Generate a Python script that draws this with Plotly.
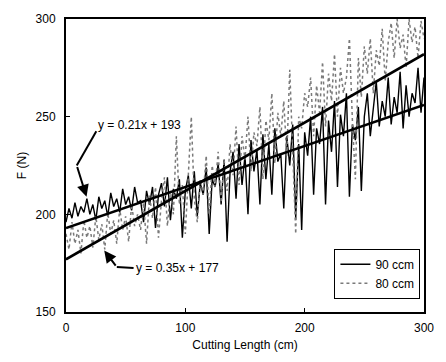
import plotly.graph_objects as go

# ---- data ----
x_cm = [i * 2.5 for i in range(121)]

f_90 = [196,203,198,206,199,204,201,208,200,205,197,209,203,207,199,211,204,208,201,213,205,209,202,214,206,
        207,196,212,205,214,193,210,216,204,219,197,213,208,218,188,212,220,203,222,199,216,210,224,190,218,214,226,205,
        228,186,222,232,208,236,215,230,200,238,222,233,205,241,218,236,210,244,227,231,203,240,225,246,198,236,192,242,
        230,250,210,244,236,255,205,248,232,258,214,251,240,262,209,246,238,255,212,250,
        262,240,255,268,245,258,250,270,246,260,252,273,244,266,250,262,257,275,252,270]

f_80 = [190,182,196,185,192,180,197,188,194,183,199,187,195,182,201,190,197,185,203,192,199,186,205,194,200,
        192,206,185,210,198,214,188,207,219,194,212,200,240,205,215,190,222,250,208,196,218,210,230,200,225,214,232,206,
        228,212,236,220,245,215,240,228,250,222,242,235,255,218,248,238,262,226,252,240,258,230,274,236,190,250,244,262,
        255,270,240,266,252,278,245,272,258,282,250,275,262,270,290,248,218,280,260,286,
        272,290,262,284,276,295,268,288,298,280,300,285,292,275,300,288,296,280,299,290]

series_names = ["90 ccm", "80 ccm"]
fit_slopes = [0.21, 0.35]
fit_intercepts = [193, 177]
fit_labels = ["y = 0.21x + 193", "y = 0.35x + 177"]
x_ticks = [0, 100, 200, 300]
y_ticks = [150, 200, 250, 300]

FONT = "Liberation Sans, Arial, sans-serif"

fig = go.Figure()
fig.add_trace(go.Scatter(x=x_cm, y=f_90, mode="lines", name=series_names[0],
                         line=dict(color="#000000", width=1.4)))
fig.add_trace(go.Scatter(x=x_cm, y=f_80, mode="lines", name=series_names[1],
                         line=dict(color="#7a7a7a", width=1.5, dash="dot")))

# linear fits
x_fit = [x_ticks[0], x_ticks[-1]]
for m, b in zip(fit_slopes, fit_intercepts):
    fig.add_trace(go.Scatter(x=x_fit, y=[m * xx + b for xx in x_fit], mode="lines",
                             showlegend=False, hoverinfo="skip",
                             line=dict(color="#000000", width=2.6)))

# annotation 1 : bent arrow to upper fit
fig.add_trace(go.Scatter(x=[25.4, 9.0], y=[242.5, 225], mode="lines", showlegend=False,
                         hoverinfo="skip", line=dict(color="#000000", width=2)))
fig.add_annotation(x=17.2, y=209, ax=9.0, ay=225, xref="x", yref="y", axref="x", ayref="y",
                   text="", showarrow=True, arrowhead=2, arrowsize=1.2, arrowwidth=2,
                   arrowcolor="#000000")
fig.add_annotation(x=25.4, y=245.5, xref="x", yref="y", text=fit_labels[0], showarrow=False,
                   xanchor="left", yanchor="middle", font=dict(family=FONT, size=12, color="#000"))

# annotation 2 : bent arrow to lower fit
fig.add_trace(go.Scatter(x=[56.6, 42.6], y=[172.5, 173], mode="lines", showlegend=False,
                         hoverinfo="skip", line=dict(color="#000000", width=2)))
fig.add_annotation(x=32, y=181.5, ax=42.6, ay=173, xref="x", yref="y", axref="x", ayref="y",
                   text="", showarrow=True, arrowhead=2, arrowsize=1.2, arrowwidth=2,
                   arrowcolor="#000000")
fig.add_annotation(x=57, y=172.5, xref="x", yref="y", text=fit_labels[1], showarrow=False,
                   xanchor="left", yanchor="middle", font=dict(family=FONT, size=12, color="#000"))

fig.update_layout(
    width=446, height=362,
    margin=dict(l=66, r=14, t=13, b=49),
    paper_bgcolor="white", plot_bgcolor="white",
    font=dict(family=FONT, size=12, color="#000"),
    showlegend=True,
    legend=dict(x=0.99, y=0.045, xanchor="right", yanchor="bottom",
                bgcolor="white", bordercolor="#000", borderwidth=1,
                font=dict(family=FONT, size=12), tracegroupgap=0, itemwidth=30),
)
fig.update_xaxes(range=[0, 300], tickvals=x_ticks, showgrid=False, zeroline=False,
                 showline=True, linecolor="#000", linewidth=2, mirror=True,
                 ticks="inside", ticklen=4, tickcolor="#000", ticklabelstandoff=4,
                 title=dict(text="Cutting Length (cm)", standoff=6, font=dict(size=12)))
fig.update_yaxes(range=[150, 300], tickvals=y_ticks, showgrid=False, zeroline=False,
                 showline=True, linecolor="#000", linewidth=2, mirror=True,
                 ticks="inside", ticklen=4, tickcolor="#000", ticklabelstandoff=6,
                 title=dict(text="F (N)", standoff=6, font=dict(size=12)))

fig.write_html("out.html")
